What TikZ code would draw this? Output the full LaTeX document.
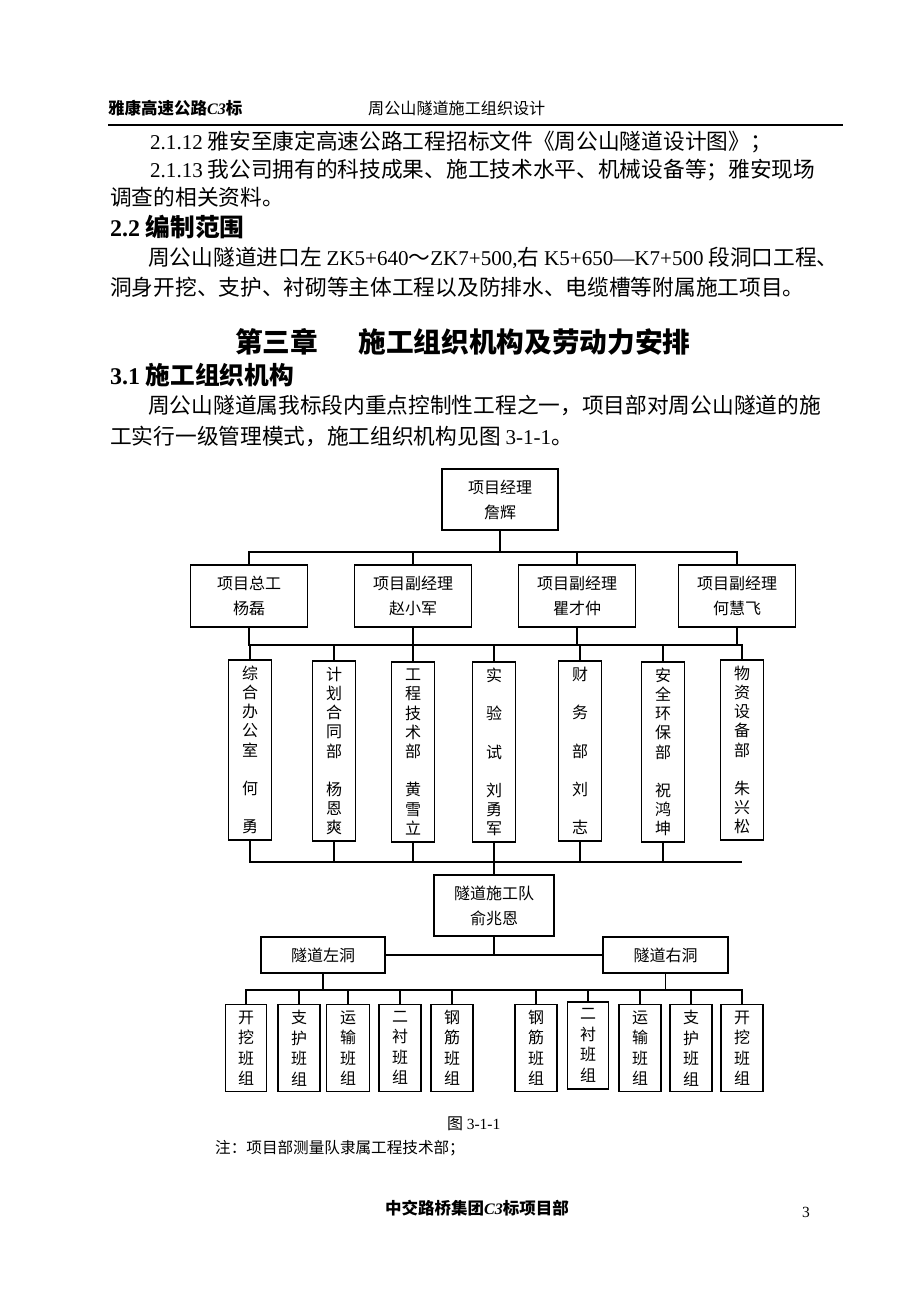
\documentclass[tikz,border=0pt]{standalone}
\usepackage{fontspec}
\setmainfont{Noto Sans CJK SC}
\newfontfamily\lat[Scale=0.97]{Liberation Serif}
\usetikzlibrary{positioning}

\newcommand\bodyfont{\fontsize{21.7}{27}\selectfont}
\newcommand\chartfont{\fontsize{16}{25}\selectfont}
\newcommand\vertfont{\fontsize{16}{19.2}\selectfont}

\begin{document}
\begin{tikzpicture}[x=1pt, y=-1pt,
  line/.style={line width=1.2pt},
  body/.style={anchor=west, inner sep=0, font=\bodyfont},
  head/.style={anchor=west, inner sep=0, font=\fontsize{24.7}{30}\selectfont\bfseries},
  unit/.style={draw, line width=1.4pt, align=center, inner sep=0, font=\chartfont, minimum width=117, minimum height=62},
  dept/.style={draw, line width=1.4pt, align=center, inner sep=0, font=\vertfont, minimum width=43, minimum height=180,
    execute at begin node={\rule{0pt}{27pt}}},
  crew/.style={draw, line width=1.4pt, align=center, inner sep=0, font=\fontsize{16}{20.5}\selectfont, minimum width=41, minimum height=87,
    execute at begin node={\rule{0pt}{27pt}}},
  hole/.style={draw, line width=1.4pt, align=center, inner sep=0, font=\chartfont, minimum width=124, minimum height=36}
]
\fill[white] (0,0) rectangle (920,1302);
\useasboundingbox (0,0) rectangle (920,1302);

% page header
\node[anchor=west, inner sep=0, font=\fontsize{16.5}{20}\selectfont\bfseries] (hdl) at (108,108) {雅康高速公路{\lat\itshape C3}标};
\node[anchor=west, inner sep=0, font=\fontsize{16.1}{20}\selectfont] (hdc) at (368,108) {周公山隧道施工组织设计};
\draw[line width=1.3pt] (108,125) -- (843,125);

% text
\node[body] (t1) at (150,142) {{\lat 2.1.12} 雅安至康定高速公路工程招标文件《周公山隧道设计图》；};
\node[body] (t2) at (150,170) {{\lat 2.1.13} 我公司拥有的科技成果、施工技术水平、机械设备等；雅安现场};
\node[body] (t3) at (110,197) {调查的相关资料。};
\node[head] (h22) at (110,227) {{\lat 2.2} 编制范围};
\node[body] (t4) at (148,258) {周公山隧道进口左 {\lat ZK5+640}～{\lat ZK7+500,}右 {\lat K5+650—K7+500} 段洞口工程、};
\node[body] (t5) at (110,287) {洞身开挖、支护、衬砌等主体工程以及防排水、电缆槽等附属施工项目。};
\node[anchor=west, inner sep=0, font=\fontsize{27.7}{32}\selectfont\bfseries] (ch3) at (235,342) {第三章\hspace{40pt}施工组织机构及劳动力安排};
\node[head] (h31) at (110,375) {{\lat 3.1} 施工组织机构};
\node[body] (t6) at (148,405) {周公山隧道属我标段内重点控制性工程之一，项目部对周公山隧道的施};
\node[body] (t7) at (110,436) {工实行一级管理模式，施工组织机构见图 {\lat 3-1-1}。};

% chart
\node[unit, minimum width=116, minimum height=61] (pm) at (500,499.5) {项目经理\\詹辉};
\node[unit] (chief) at (249,596) {项目总工\\杨磊};
\node[unit] (dep1) at (413,596) {项目副经理\\赵小军};
\node[unit] (dep2) at (577,596) {项目副经理\\瞿才仲};
\node[unit] (dep3) at (737,596) {项目副经理\\何慧飞};

\node[dept] (d1) at (250,750) {综\\合\\办\\公\\室\\\mbox{}\\何\\\mbox{}\\勇};
\node[dept] (d2) at (334,751) {计\\划\\合\\同\\部\\\mbox{}\\杨\\恩\\爽};
\node[dept] (d3) at (413,752) {工\\程\\技\\术\\部\\\mbox{}\\黄\\雪\\立};
\node[dept] (d4) at (494,752) {实\\\mbox{}\\验\\\mbox{}\\试\\\mbox{}\\刘\\勇\\军};
\node[dept] (d5) at (580,751) {财\\\mbox{}\\务\\\mbox{}\\部\\\mbox{}\\刘\\\mbox{}\\志};
\node[dept] (d6) at (663,752) {安\\全\\环\\保\\部\\\mbox{}\\祝\\鸿\\坤};
\node[dept] (d7) at (742,750) {物\\资\\设\\备\\部\\\mbox{}\\朱\\兴\\松};

\node[unit, minimum width=120, minimum height=61] (team) at (494,905.5) {隧道施工队\\俞兆恩};
\node[hole] (left) at (323,955) {隧道左洞};
\node[hole, minimum width=125] (right) at (665.5,955) {隧道右洞};

\node[crew] (L1) at (246,1048) {开\\挖\\班\\组};
\node[crew, minimum width=42] (L2) at (299,1048) {支\\护\\班\\组};
\node[crew, minimum width=43] (L3) at (348,1048) {运\\输\\班\\组};
\node[crew, minimum width=42] (L4) at (400,1048) {二\\衬\\班\\组};
\node[crew, minimum width=42] (L5) at (452,1048) {钢\\筋\\班\\组};
\node[crew, minimum width=42] (R1) at (536,1048) {钢\\筋\\班\\组};
\node[crew] (R2) at (588,1045.5) {二\\衬\\班\\组};
\node[crew, minimum width=42] (R3) at (640,1048) {运\\输\\班\\组};
\node[crew, minimum width=42] (R4) at (691,1048) {支\\护\\班\\组};
\node[crew, minimum width=42] (R5) at (742,1048) {开\\挖\\班\\组};

\coordinate (b1) at (500,552);
\coordinate (b2) at (494,645);
\coordinate (b3) at (494,862);
\coordinate (b4) at (494,990);

\draw[line] (pm) -- (b1);
\foreach \n in {chief,dep1,dep2,dep3}
  \draw[line] (b1) -| (\n.north);
\foreach \n in {chief,dep1,dep2,dep3}
  \draw[line] (\n.south) |- (b2);
\foreach \n in {d1,d2,d3,d4,d5,d6,d7}
  \draw[line] (b2) -| (\n.north);
\foreach \n in {d1,d2,d3,d4,d5,d6}
  \draw[line] (\n.south) |- (b3);
\draw[line] (b3) -- (d7.south |- b3);
\draw[line] (b3) -- (team);
\draw[line] (team) -- (team |- left);
\draw[line] (left) -- (right);
\draw[line] (left.south) -- (left.south |- b4);
\draw[line] (right.south) -- (right.south |- b4);
\foreach \n in {L1,L2,L3,L4,L5,R1,R2,R3,R4,R5}
  \draw[line] (b4) -| (\n.north);

% caption and note
\node[anchor=west, inner sep=0, font=\fontsize{16}{20}\selectfont] (cap) at (447,1124) {图 {\lat 3-1-1}};
\node[anchor=west, inner sep=0, font=\fontsize{15.6}{20}\selectfont] (note) at (215,1148) {注：项目部测量队隶属工程技术部；};

% page footer
\node[anchor=west, inner sep=0, font=\fontsize{16.5}{20}\selectfont\bfseries] (ftr) at (385,1208) {中交路桥集团{\lat\itshape C3}标项目部};
\node[inner sep=0, font=\fontsize{16}{20}\selectfont\lat] (pg) at (806,1212) {3};
\end{tikzpicture}
\end{document}
